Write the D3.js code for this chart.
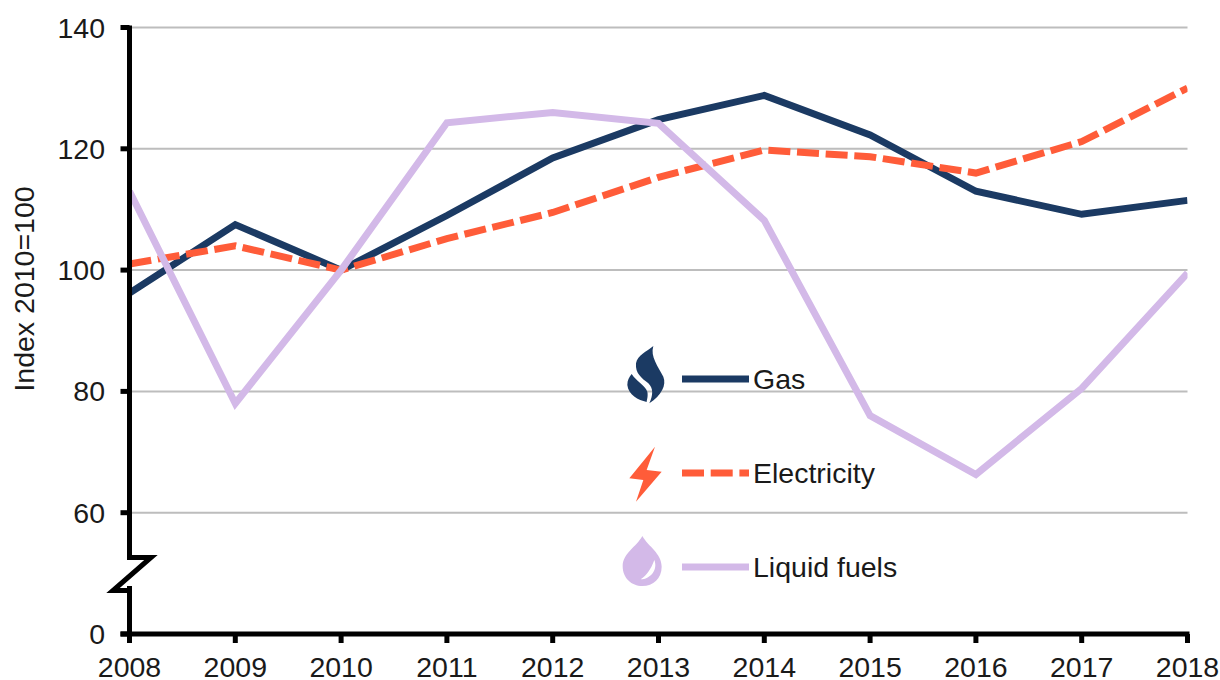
<!DOCTYPE html>
<html><head><meta charset="utf-8">
<script src="https://cdn.jsdelivr.net/npm/d3@7"></script>
<style>html,body{margin:0;padding:0;background:#fff}svg{display:block}text{font-family:"Liberation Sans",Arial,sans-serif;fill:#1a1a1a}</style>
</head><body><svg id="c" width="1220" height="680"></svg>
<script>
const years=[2008,2009,2010,2011,2012,2013,2014,2015,2016,2017,2018];
const gas=[96.2,107.5,100,109,118.5,124.8,128.8,122.3,113,109.2,111.5];
const electricity=[101,104,100,105.2,109.5,115.3,119.8,118.7,116,121.2,130];
const liquidFuels=[113,78,100,124.3,126,124.2,108.2,76,66.3,80.5,99.5];
const gridTicks=[60,80,100,120,140];
const breakBase=40; const baseLabel="0";
const yTitle="Index 2010=100";
const seriesNames=["Gas","Electricity","Liquid fuels"];
const colors=["#1b3a63","#ff5c39","#d3b9e8"];
const dashes=[null,"22 6.7",null];
const seriesValues=[gas,electricity,liquidFuels];

const svg=d3.select("#c");
const x=d3.scaleLinear().domain([2008,2018]).range([129.5,1187.5]);
const y=d3.scaleLinear().domain([breakBase,140]).range([634,27.5]);
const fs=28.5;

svg.append("defs").append("clipPath").attr("id","plot").append("rect")
  .attr("x",x(2008)).attr("y",0).attr("width",x(2018)-x(2008)).attr("height",640);

svg.append("g").selectAll("line").data(gridTicks).join("line")
  .attr("x1",x(2008)).attr("x2",x(2018)).attr("y1",d=>y(d)).attr("y2",d=>y(d))
  .attr("stroke","#bdbdbd").attr("stroke-width",2);

const line=d3.line().x((d,i)=>x(years[i])).y(d=>y(d));
svg.append("g").attr("clip-path","url(#plot)").selectAll("path").data(seriesValues).join("path")
  .attr("d",line).attr("fill","none")
  .attr("stroke",(d,i)=>colors[i]).attr("stroke-width",7)
  .attr("stroke-dasharray",(d,i)=>dashes[i]).attr("stroke-linejoin","miter");

const ax=svg.append("g").attr("stroke","#000").attr("fill","none").attr("stroke-width",5);
ax.append("path").attr("stroke-linejoin","miter").attr("d",
  `M${x(2008)},${y(140)-2}V557.5H151L113,590.5H129.5`);
ax.append("path").attr("d",`M${x(2008)},586V${y(breakBase)}`);
ax.append("path").attr("d",`M${x(2008)-9},${y(breakBase)}H${x(2018)+2}`);
ax.selectAll("line.y").data([breakBase].concat(gridTicks)).join("line").attr("class","y")
  .attr("x1",x(2008)-9).attr("x2",x(2008)).attr("y1",d=>y(d)).attr("y2",d=>y(d));
ax.selectAll("line.x").data(years).join("line").attr("class","x")
  .attr("x1",d=>x(d)).attr("x2",d=>x(d)).attr("y1",y(breakBase)).attr("y2",y(breakBase)+9);

svg.append("g").selectAll("text").data(gridTicks).join("text")
  .attr("x",105).attr("y",d=>y(d)+10).attr("text-anchor","end").attr("font-size",fs).text(d=>d);
svg.append("text").attr("x",105).attr("y",y(breakBase)+10).attr("text-anchor","end").attr("font-size",fs).text(baseLabel);
svg.append("g").selectAll("text").data(years).join("text")
  .attr("x",d=>x(d)).attr("y",677).attr("text-anchor","middle").attr("font-size",fs).text(d=>d);
svg.append("text").attr("transform","translate(34,289) rotate(-90)").attr("text-anchor","middle")
  .attr("font-size",fs).text(yTitle);

const legY=[379,473,567];
const leg=svg.append("g");
seriesNames.forEach((n,i)=>{
  leg.append("line").attr("x1",682).attr("x2",749).attr("y1",legY[i]).attr("y2",legY[i])
    .attr("stroke",colors[i]).attr("stroke-width",7).attr("stroke-dasharray",dashes[i]);
  leg.append("text").attr("x",753).attr("y",legY[i]+10).attr("font-size",fs).text(n);
});
const icons=leg.append("g").attr("transform","translate(600,330) scale(0.3333)");
icons.append("path").attr("fill",colors[0]).attr("d",
 "M160,48C150,80 175,110 190,140C200,165 185,195 148,220C160,195 160,175 145,160C125,145 105,130 108,100C112,75 140,65 160,48Z");
icons.append("path").attr("fill",colors[0]).attr("d",
 "M95,132C110,155 135,165 142,185C145,200 140,210 140,216C115,210 85,195 82,165C82,150 88,140 95,132Z");
icons.append("path").attr("fill",colors[1]).attr("d",
 "M165,350L88,445L130,450L108,515L185,425L140,420Z");
icons.append("path").attr("fill",colors[2]).attr("d",
 "M127,618C145,650 185,670 185,710C185,745 160,768 127,768C95,768 68,745 68,708C68,670 110,650 127,618Z");
icons.append("path").attr("fill","#fff").attr("d",
 "M163,690C175,720 150,748 122,748C140,735 152,720 163,690Z");
</script></body></html>
